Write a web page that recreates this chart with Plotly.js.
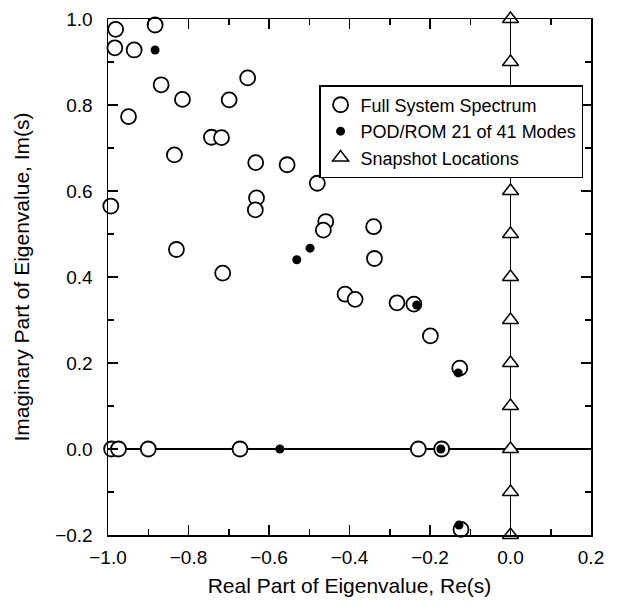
<!DOCTYPE html>
<html><head><meta charset="utf-8">
<script src="https://cdn.plot.ly/plotly-3.0.1.min.js"></script>
<style>html,body{margin:0;padding:0;background:#fff}#chart{width:622px;height:610px}</style>
</head><body><div id="chart"></div>
<script>
// Full system spectrum (open circles)
const fullRe = [-0.981,-0.983,-0.935,-0.883,-0.868,-0.949,-0.815,-0.653,-0.699,-0.743,-0.718,-0.835,-0.633,-0.555,-0.993,-0.631,-0.634,-0.480,-0.459,-0.465,-0.830,-0.715,-0.340,-0.338,-0.411,-0.386,-0.282,-0.240,-0.199,-0.126,-0.991,-0.974,-0.900,-0.672,-0.229,-0.171,-0.123];
const fullIm = [0.976,0.933,0.928,0.986,0.847,0.773,0.813,0.863,0.812,0.725,0.724,0.684,0.666,0.661,0.565,0.584,0.556,0.618,0.529,0.509,0.464,0.409,0.517,0.443,0.360,0.348,0.340,0.337,0.263,0.188,0.0,0.0,0.0,0.0,0.0,0.0,-0.187];
// POD/ROM 21 of 41 modes (filled dots)
const romRe = [-0.883,-0.498,-0.531,-0.233,-0.130,-0.573,-0.173,-0.128];
const romIm = [0.928,0.467,0.440,0.335,0.177,0.0,0.0,-0.177];
// Snapshot locations (triangles)
const snapRe = [0,0,0,0,0,0,0,0,0,0,0,0,0];
const snapIm = [-0.2,-0.1,0.0,0.1,0.2,0.3,0.4,0.5,0.6,0.7,0.8,0.9,1.0];

const FONT = "Liberation Sans, Arial, Helvetica, sans-serif";
const traces = [
  {x: fullRe, y: fullIm, type:'scatter', mode:'markers', name:'Full System Spectrum',
   marker:{symbol:'circle', size:15, color:'#fff', line:{color:'#000', width:1.8}}, cliponaxis:false},
  {x: romRe, y: romIm, type:'scatter', mode:'markers', name:'POD/ROM 21 of 41 Modes',
   marker:{symbol:'circle', size:9, color:'#000', line:{width:0}}, cliponaxis:false},
  {x: snapRe, y: snapIm, type:'scatter', mode:'markers', name:'Snapshot Locations',
   marker:{symbol:'triangle-up', size:14, color:'#fff', line:{color:'#000', width:1.5}}, cliponaxis:false}
];
const axisCommon = {
  showgrid:false, showline:true, linecolor:'#000', linewidth:1.5, mirror:'ticks',
  ticks:'inside', ticklen:10, tickwidth:1.5, tickcolor:'#000',
  tickfont:{family:FONT, size:19, color:'#000'},
  minor:{dtick:0.1, ticks:'inside', ticklen:6, tickwidth:1.5, tickcolor:'#000', showgrid:false},
  zeroline:true, zerolinecolor:'#000', zerolinewidth:1.5, tickformat:'.1f'
};
const layout = {
  width:622, height:610,
  margin:{l:108, r:31, t:19, b:75},
  paper_bgcolor:'#fff', plot_bgcolor:'#fff',
  font:{family:FONT, color:'#000'},
  showlegend:true,
  legend:{x:0.437, y:0.872, xanchor:'left', yanchor:'top', bgcolor:'#fff',
    bordercolor:'#000', borderwidth:1.5, font:{family:FONT, size:18, color:'#000'},
    itemwidth:30, tracegroupgap:0},
  xaxis: Object.assign({}, axisCommon, {range:[-1.0,0.2], dtick:0.2, tick0:0, ticklabelstandoff:5,
    title:{text:'Real Part of Eigenvalue, Re(s)', font:{family:FONT, size:21, color:'#000'}, standoff:11}}),
  yaxis: Object.assign({}, axisCommon, {range:[-0.2,1.0], dtick:0.2, tick0:0, ticklabelstandoff:10,
    title:{text:'Imaginary Part of Eigenvalue, Im(s)', font:{family:FONT, size:21, color:'#000'}, standoff:20}})
};
Plotly.newPlot('chart', traces, layout, {displayModeBar:false, staticPlot:true});
</script></body></html>
